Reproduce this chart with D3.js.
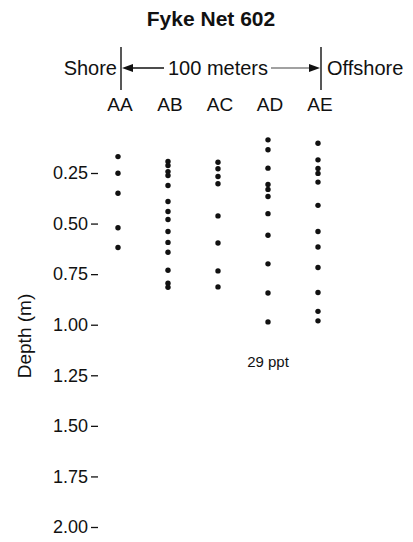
<!DOCTYPE html>
<html>
<head>
<meta charset="utf-8">
<script src="https://cdn.jsdelivr.net/npm/d3@7"></script>
<style>
  html, body { margin: 0; padding: 0; background: #fff; }
  svg { display: block; font-family: "Liberation Sans", Arial, Helvetica, sans-serif; }
</style>
</head>
<body>
<svg id="chart" width="413" height="542"></svg>
<script>
// ---- data ----
const title = "Fyke Net 602";
const stations = ["AA", "AB", "AC", "AD", "AE"];
const depthTicks = [0.25, 0.50, 0.75, 1.00, 1.25, 1.50, 1.75, 2.00];
const depthsAA = [0.169, 0.251, 0.350, 0.521, 0.618];
const depthsAB = [0.193, 0.213, 0.243, 0.262, 0.312, 0.391, 0.440, 0.480, 0.539, 0.593, 0.642, 0.731, 0.795, 0.815];
const depthsAC = [0.197, 0.229, 0.267, 0.303, 0.462, 0.596, 0.734, 0.813];
const depthsAD = [0.086, 0.135, 0.226, 0.307, 0.331, 0.366, 0.451, 0.558, 0.699, 0.843, 0.986];
const depthsAE = [0.103, 0.185, 0.228, 0.252, 0.295, 0.410, 0.539, 0.616, 0.717, 0.841, 0.934, 0.981];
const yAxisLabel = "Depth (m)";
const shoreLabel = "Shore";
const offshoreLabel = "Offshore";
const distanceLabel = "100 meters";
const salinityLabel = "29 ppt";

const series = [
  { station: "AA", depths: depthsAA },
  { station: "AB", depths: depthsAB },
  { station: "AC", depths: depthsAC },
  { station: "AD", depths: depthsAD },
  { station: "AE", depths: depthsAE }
];

// ---- drawing ----
const svg = d3.select("#chart");
const ink = "#111";

const x = d3.scalePoint().domain(stations).range([118, 318]);
const y = d3.scaleLinear().domain([0.25, 2.0]).range([173, 527]);

// title
svg.append("text")
  .attr("x", 211).attr("y", 26)
  .attr("text-anchor", "middle")
  .attr("font-size", 21).attr("font-weight", "bold")
  .attr("fill", ink)
  .text(title);

// header: shore / offshore bars and arrow
const xL = x("AA") + 3, xR = x("AE") + 3, yArrow = 68;
svg.selectAll("line.bar").data([xL, xR]).join("line")
  .attr("class", "bar")
  .attr("x1", d => d).attr("x2", d => d)
  .attr("y1", 47).attr("y2", 90)
  .attr("stroke", ink).attr("stroke-width", 1.4);

svg.append("text").attr("x", xL - 4).attr("y", yArrow + 7)
  .attr("text-anchor", "end").attr("font-size", 20).attr("fill", ink)
  .text(shoreLabel);
svg.append("text").attr("x", xR + 6).attr("y", yArrow + 7)
  .attr("text-anchor", "start").attr("font-size", 20).attr("fill", ink)
  .text(offshoreLabel);
svg.append("text").attr("x", 218).attr("y", yArrow + 7)
  .attr("text-anchor", "middle").attr("font-size", 20).attr("fill", ink)
  .text(distanceLabel);

// arrow lines
svg.append("line").attr("x1", xL + 10).attr("x2", 164)
  .attr("y1", yArrow).attr("y2", yArrow)
  .attr("stroke", ink).attr("stroke-width", 1.3);
svg.append("line").attr("x1", 271).attr("x2", xR - 10)
  .attr("y1", yArrow).attr("y2", yArrow)
  .attr("stroke", "#444").attr("stroke-width", 1.2);
// arrowheads
svg.append("path")
  .attr("d", `M${xL + 1},${yArrow} L${xL + 12},${yArrow - 4} L${xL + 12},${yArrow + 4} Z`)
  .attr("fill", ink);
svg.append("path")
  .attr("d", `M${xR - 1},${yArrow} L${xR - 12},${yArrow - 4} L${xR - 12},${yArrow + 4} Z`)
  .attr("fill", ink);

// station labels
svg.selectAll("text.st").data(stations).join("text")
  .attr("class", "st")
  .attr("x", d => x(d) + 2).attr("y", 111)
  .attr("text-anchor", "middle").attr("font-size", 19).attr("fill", ink)
  .text(d => d);

// y axis
const axis = d3.axisLeft(y)
  .tickValues(depthTicks)
  .tickFormat(d3.format(".2f"))
  .tickSize(7).tickPadding(3);
const gAxis = svg.append("g")
  .attr("transform", "translate(98,0)")
  .call(axis);
gAxis.select(".domain").remove();
gAxis.selectAll(".tick line").attr("stroke", ink).attr("stroke-width", 1.3);
gAxis.selectAll(".tick text")
  .attr("font-size", 18).attr("fill", ink)
  .attr("font-family", "Liberation Sans, Arial, sans-serif");

// y axis title
svg.append("text")
  .attr("transform", "translate(31,336) rotate(-90)")
  .attr("text-anchor", "middle").attr("font-size", 19).attr("fill", ink)
  .text(yAxisLabel);

// dots
const g = svg.append("g");
series.forEach(s => {
  g.selectAll(null).data(s.depths).join("circle")
    .attr("cx", x(s.station))
    .attr("cy", d => y(d))
    .attr("r", 2.7)
    .attr("fill", ink);
});

// salinity annotation
svg.append("text")
  .attr("x", 268).attr("y", 367)
  .attr("text-anchor", "middle").attr("font-size", 15).attr("fill", ink)
  .text(salinityLabel);
</script>
</body>
</html>
